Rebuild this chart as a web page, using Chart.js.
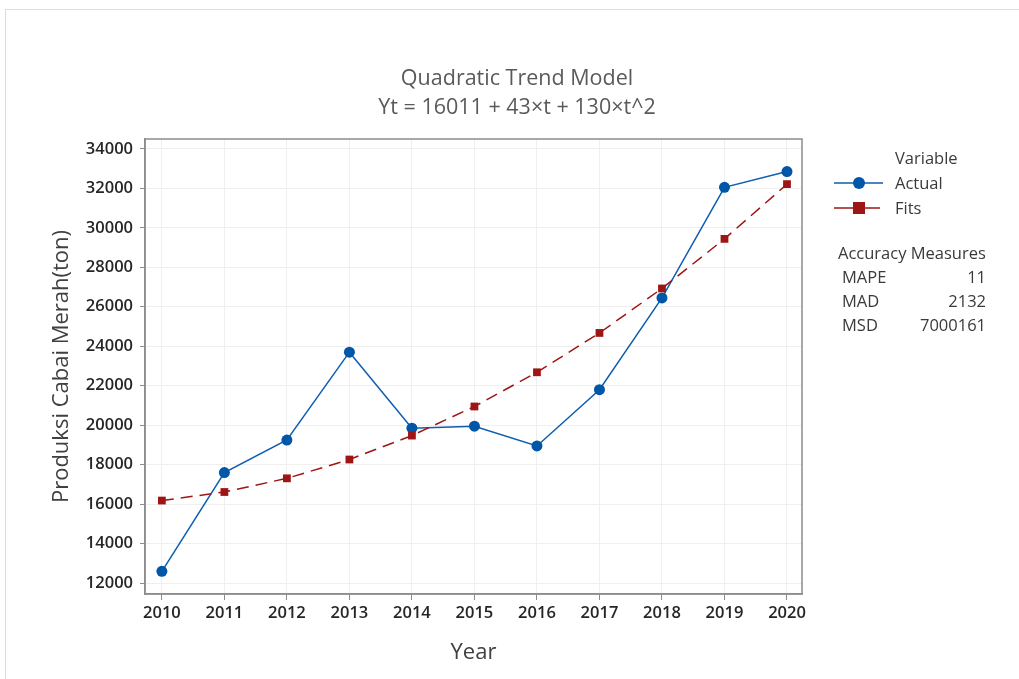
<!DOCTYPE html>
<html>
<head>
<meta charset="utf-8">
<script src="https://cdn.jsdelivr.net/npm/chart.js@4.4.1/dist/chart.umd.min.js"></script>
<style>
  body { margin: 0; background: #fff; }
  #frame { position: absolute; left: 5px; top: 9px; width: 1014px; height: 670px;
           border-top: 1px solid #dcdcdc; border-left: 1px solid #dcdcdc; }
  #myChart { position: absolute; left: 0; top: 0; }
</style>
</head>
<body>
<div id="frame"></div>
<canvas id="myChart" width="1019" height="679"></canvas>
<script>
// data
var years = [2010, 2011, 2012, 2013, 2014, 2015, 2016, 2017, 2018, 2019, 2020];
var actual = [12600, 17600, 19250, 23700, 19850, 19950, 18950, 21800, 26450, 32050, 32850];
var fits = [16184, 16617, 17310, 18263, 19476, 20949, 22682, 24675, 26928, 29441, 32214];
var yTicks = [12000, 14000, 16000, 18000, 20000, 22000, 24000, 26000, 28000, 30000, 32000, 34000];
var titleLines = ['Quadratic Trend Model', 'Yt = 16011 + 43\u00d7t + 130\u00d7t^2'];
var accuracyNames = ['MAPE', 'MAD', 'MSD'];
var accuracyValues = ['11', '2132', '7000161'];

var blue = '#0d5db2';
var red = '#9e1515';
var font = '"Open Sans", "Noto Sans", sans-serif';

function pts(vals) {
  return years.map(function(y, i) { return { x: y, y: vals[i] }; });
}

// title, frame, legend and accuracy box
var extras = {
  id: 'extras',
  afterDraw: function(chart) {
    var c = chart.ctx, a = chart.chartArea;
    c.save();
    c.strokeStyle = '#8c8c8c';
    c.lineWidth = 1.5;
    c.strokeRect(a.left, a.top, a.right - a.left, a.bottom - a.top);

    c.fillStyle = '#5a5a5a';
    c.font = '21.5px ' + font;
    c.textAlign = 'center';
    c.textBaseline = 'middle';
    c.fillText(titleLines[0], 517, 79);
    c.fillText(titleLines[1], 517, 108);

    c.fillStyle = '#3a3a3a';
    c.font = '16.5px ' + font;
    c.textAlign = 'left';
    c.fillText('Variable', 895, 159);
    c.fillText('Actual', 895, 184);
    c.fillText('Fits', 895, 209);

    c.strokeStyle = blue; c.lineWidth = 1.5;
    c.beginPath(); c.moveTo(834, 183); c.lineTo(883, 183); c.stroke();
    c.fillStyle = '#0057a8';
    c.beginPath(); c.arc(859, 183, 6, 0, Math.PI * 2); c.fill();
    c.strokeStyle = red;
    c.beginPath(); c.moveTo(834, 208); c.lineTo(880, 208); c.stroke();
    c.fillStyle = red;
    c.fillRect(853, 202, 12, 12);

    c.fillStyle = '#3a3a3a';
    c.fillText('Accuracy Measures', 838, 254);
    accuracyNames.forEach(function(n, i) {
      c.textAlign = 'left';
      c.fillText(n, 842, 278 + i * 24);
      c.textAlign = 'right';
      c.fillText(accuracyValues[i], 986, 278 + i * 24);
    });
    c.restore();
  }
};

var ctx = document.getElementById('myChart').getContext('2d');
var myChart = new Chart(ctx, {
  type: 'line',
  data: {
    datasets: [{
      label: 'Fits',
      data: pts(fits),
      borderColor: red,
      backgroundColor: red,
      borderWidth: 1.5,
      borderDash: [12, 7],
      pointStyle: 'rect',
      pointRadius: 5.5,
      pointBorderWidth: 0,
      fill: false,
      tension: 0
    }, {
      label: 'Actual',
      data: pts(actual),
      borderColor: blue,
      backgroundColor: '#0057a8',
      borderWidth: 1.5,
      pointStyle: 'circle',
      pointRadius: 5.5,
      pointBorderWidth: 0,
      fill: false,
      tension: 0
    }]
  },
  options: {
    responsive: false,
    animation: false,
    layout: { padding: { top: 139, right: 217, left: 45, bottom: 9 } },
    plugins: {
      legend: { display: false },
      title: { display: false },
      tooltip: { enabled: false }
    },
    scales: {
      x: {
        type: 'linear',
        min: 2009.73,
        max: 2020.24,
        afterBuildTicks: function(s) { s.ticks = years.map(function(v) { return { value: v }; }); },
        afterFit: function(s) { s.height = 76; },
        ticks: { color: '#262626', font: { family: font, size: 16.5, weight: '600' }, padding: 3,
                 callback: function(v) { return String(v); } },
        grid: { color: '#efefef', tickColor: '#8c8c8c', tickLength: 6, lineWidth: 1 },
        border: { color: '#8c8c8c', width: 1.5 },
        title: { display: true, text: 'Year', color: '#404040', font: { family: font, size: 22 } }
      },
      y: {
        min: 11450,
        max: 34500,
        afterBuildTicks: function(s) { s.ticks = yTicks.map(function(v) { return { value: v }; }); },
        afterFit: function(s) { s.width = 100; },
        ticks: { color: '#262626', font: { family: font, size: 16.5, weight: '600' }, padding: 7,
                 callback: function(v) { return String(v); } },
        grid: { color: '#efefef', tickColor: '#8c8c8c', tickLength: 5, lineWidth: 1 },
        border: { color: '#8c8c8c', width: 1.5 },
        title: { display: true, text: 'Produksi Cabai Merah(ton)', color: '#404040', font: { family: font, size: 22 } }
      }
    }
  },
  plugins: [extras]
});
</script>
</body>
</html>
